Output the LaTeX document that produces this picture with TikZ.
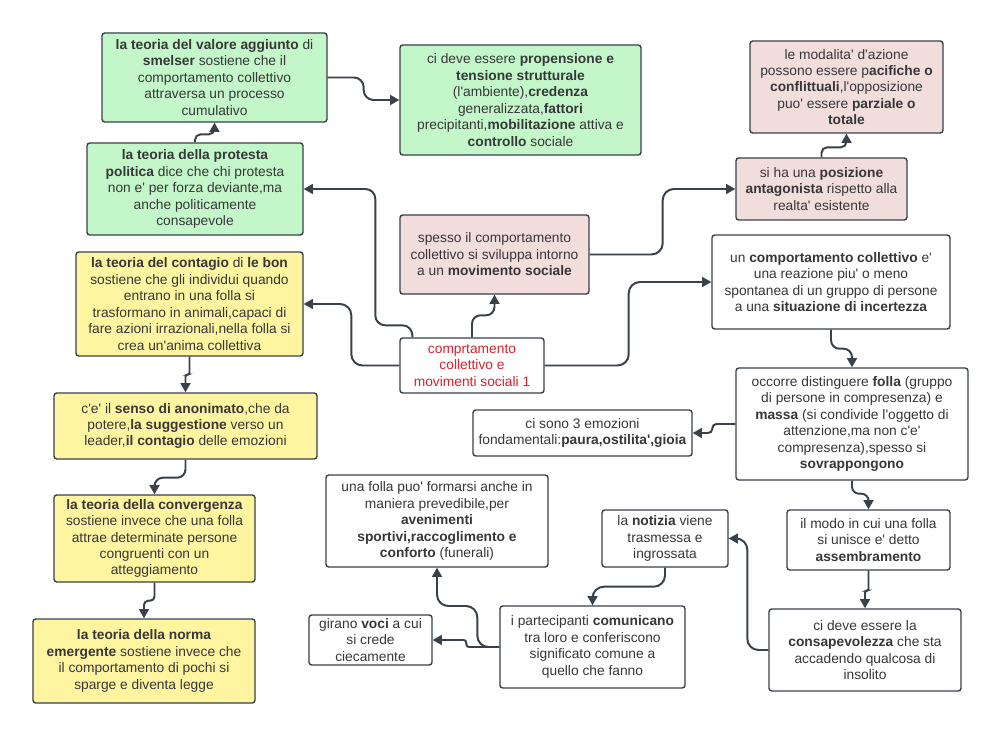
\documentclass[tikz,border=0pt]{standalone}
\usepackage{fontspec}
\newfontfamily\lsans{Liberation Sans}
\usetikzlibrary{arrows.meta}
\definecolor{edgec}{RGB}{58,65,74}
\definecolor{textc}{RGB}{55,55,58}
\definecolor{greenc}{RGB}{195,246,200}
\definecolor{pinkc}{RGB}{242,221,221}
\definecolor{yellowc}{RGB}{255,245,160}
\definecolor{redc}{RGB}{215,35,45}
\tikzset{
    box/.style={draw=edgec,line width=1pt,rounded corners=2pt,align=center,inner sep=1pt,
        font=\lsans\fontsize{9.8}{11.7}\selectfont,text=textc},
    greenbox/.style={box,fill=greenc},
    pinkbox/.style={box,fill=pinkc},
    yellowbox/.style={box,fill=yellowc},
    whitebox/.style={box,fill=white},
    sz/.style 2 args={minimum width=#1*0.025cm,minimum height=#2*0.025cm},
    conn/.style={draw=edgec,line width=1.4pt,-{Triangle[length=6.5pt,width=7pt]}},
}
\begin{document}
\begin{tikzpicture}[x=0.025cm,y=-0.025cm]
        \path[fill=white,use as bounding box] (0,0) rectangle (1000,736);
        %% theories (left side)
        \node[greenbox,sz={225}{89}] (val) at (214.5,77.5) {\textbf{la teoria del valore aggiunto} di\\ \textbf{smelser} sostiene che il\\ comportamento collettivo\\ attraversa un processo\\ cumulativo};
        \node[greenbox,sz={241}{110}] (prop) at (520.5,100) {ci deve essere \textbf{propensione e}\\ \textbf{tensione strutturale}\\ (l'ambiente),\textbf{credenza}\\ generalizzata,\textbf{fattori}\\ precipitanti,\textbf{mobilitazione} attiva e\\ \textbf{controllo} sociale};
        \node[greenbox,sz={216}{92}] (prot) at (195,189) {\textbf{la teoria della protesta}\\ \textbf{politica} dice che chi protesta\\ non e' per forza deviante,ma\\ anche politicamente\\ consapevole};
        \node[yellowbox,sz={227}{104}] (cont) at (189.5,304) {\textbf{la teoria del contagio} di \textbf{le bon}\\ sostiene che gli individui quando\\ entrano in una folla si\\ trasformano in animali,capaci di\\ fare azioni irrazionali,nella folla si\\ crea un'anima collettiva};
        \node[yellowbox,sz={263}{66}] (sens) at (185.5,426) {c'e' il \textbf{senso di anonimato},che da\\ potere,\textbf{la suggestione} verso un\\ leader,\textbf{il contagio} delle emozioni};
        \node[yellowbox,sz={201}{87}] (conv) at (154.5,538.5) {\textbf{la teoria della convergenza}\\ sostiene invece che una folla\\ attrae determinate persone\\ congruenti con un\\ atteggiamento};
        \node[yellowbox,sz={222}{84}] (norma) at (144,661) {\textbf{la teoria della norma}\\ \textbf{emergente} sostiene invece che\\ il comportamento di pochi si\\ sparge e diventa legge};
        %% movements
        \node[pinkbox,sz={193}{92}] (mod) at (846.5,87) {le modalita' d'azione\\ possono essere p\textbf{acifiche o}\\ \textbf{conflittuali},l'opposizione\\ puo' essere \textbf{parziale o}\\ \textbf{totale}};
        \node[pinkbox,sz={171}{62}] (pos) at (821.5,189) {si ha una \textbf{posizione}\\ \textbf{antagonista} rispetto alla\\ realta' esistente};
        \node[pinkbox,sz={189}{79}] (mov) at (494.5,254.5) {spesso il comportamento\\ collettivo si sviluppa intorno\\ a un \textbf{movimento sociale}};
        %% centre
        \node[whitebox,sz={144}{55},text=redc] (cen) at (472,365.5) {comprtamento\\ collettivo e\\ movimenti sociali 1};
        %% crowd (right and bottom)
        \node[whitebox,sz={238}{94}] (cc) at (831,282) {un \textbf{comportamento collettivo} e'\\ una reazione piu' o meno\\ spontanea di un gruppo di persone\\ a una \textbf{situazione di incertezza}};
        \node[whitebox,sz={232}{112}] (folla) at (852,424) {occorre distinguere \textbf{folla} (gruppo\\ di persone in compresenza) e\\ \textbf{massa} (si condivide l'oggetto di\\ attenzione,ma non c'e'\\ compresenza),spesso si\\ \textbf{sovrappongono}};
        \node[whitebox,sz={219}{46}] (emo) at (582.5,433) {ci sono 3 emozioni\\ fondamentali:\textbf{paura,ostilita',gioia}};
        \node[whitebox,sz={163}{60}] (ass) at (868.5,540) {il modo in cui una folla\\ si unisce e' detto\\ \textbf{assembramento}};
        \node[whitebox,sz={192}{82}] (cons) at (865,650) {ci deve essere la\\ \textbf{consapevolezza} che sta\\ accadendo qualcosa di\\ insolito};
        \node[whitebox,sz={126}{57}] (not) at (665,538.5) {la \textbf{notizia} viene\\ trasmessa e\\ ingrossata};
        \node[whitebox,sz={185}{82}] (part) at (592.5,647) {i partecipanti \textbf{comunicano}\\ tra loro e conferiscono\\ significato comune a\\ quello che fanno};
        \node[whitebox,sz={123}{50}] (voci) at (370.5,640) {girano \textbf{voci} a cui\\ si crede\\ ciecamente};
        \node[whitebox,sz={222}{92}] (prev) at (437,521) {una folla puo' formarsi anche in\\ maniera prevedibile,per\\ \textbf{avenimenti}\\ \textbf{sportivi,raccoglimento e}\\ \textbf{conforto} (funerali)};
        %% links from the centre
        \draw[conn,rounded corners=6pt] (cen.north) -- ++(0,-22) -| (mov.south);
        \draw[conn,rounded corners=7pt] (cen.north west) ++(13,0) -- ++(0,-12) -- ++(-37,0) |- (prot.east);
        \draw[conn,rounded corners=8pt] (cen.west) -- ++(-48,0) |- (cont.east);
        \draw[conn,rounded corners=8pt] (cen.east) -- ++(84,0) |- (cc.west);
        %% theories
        \draw[conn,rounded corners=4pt] (prot.north) -- ++(0,-8) -| (val.south);
        \draw[conn,rounded corners=7pt] (val.east) -- ++(36,0) |- (prop.west);
        \draw[conn,rounded corners=1.5pt] (cont.south) -- ++(0,18) -| (sens.north);
        \draw[conn,rounded corners=6pt] (sens.south) -- ++(0,18) -| (conv.north);
        \draw[conn,rounded corners=3pt] (conv.south) -- ++(0,18) -| (norma.north);
        %% movements
        \draw[conn,rounded corners=8pt] (mov.east) -- ++(73,0) |- (pos.west);
        \draw[conn,rounded corners=4pt] (pos.north) -- ++(0,-10) -| (mod.south);
        %% crowd
        \draw[conn,rounded corners=6pt] (cc.south) -- ++(0,19) -| (folla.north);
        \draw[conn,rounded corners=3pt] (folla.west) -- ++(-23,0) |- (emo.east);
        \draw[conn,rounded corners=5pt] (folla.south) -- ++(0,13) -| (ass.north);
        \draw[conn,rounded corners=1.5pt] (ass.south) -- ++(0,20) -| (cons.north);
        \draw[conn,rounded corners=8pt] (cons.west) -- ++(-21,0) |- (not.east);
        \draw[conn,rounded corners=8pt] (not.south) -- ++(0,19) -| (part.north);
        \draw[conn,rounded corners=2pt] (part.west) -- ++(-33,0) |- (voci.east);
        \draw[conn,rounded corners=8pt] (part.west) -- ++(-22,0) -- ++(0,-41) -| (prev.south);
    \end{tikzpicture}
\end{document}
